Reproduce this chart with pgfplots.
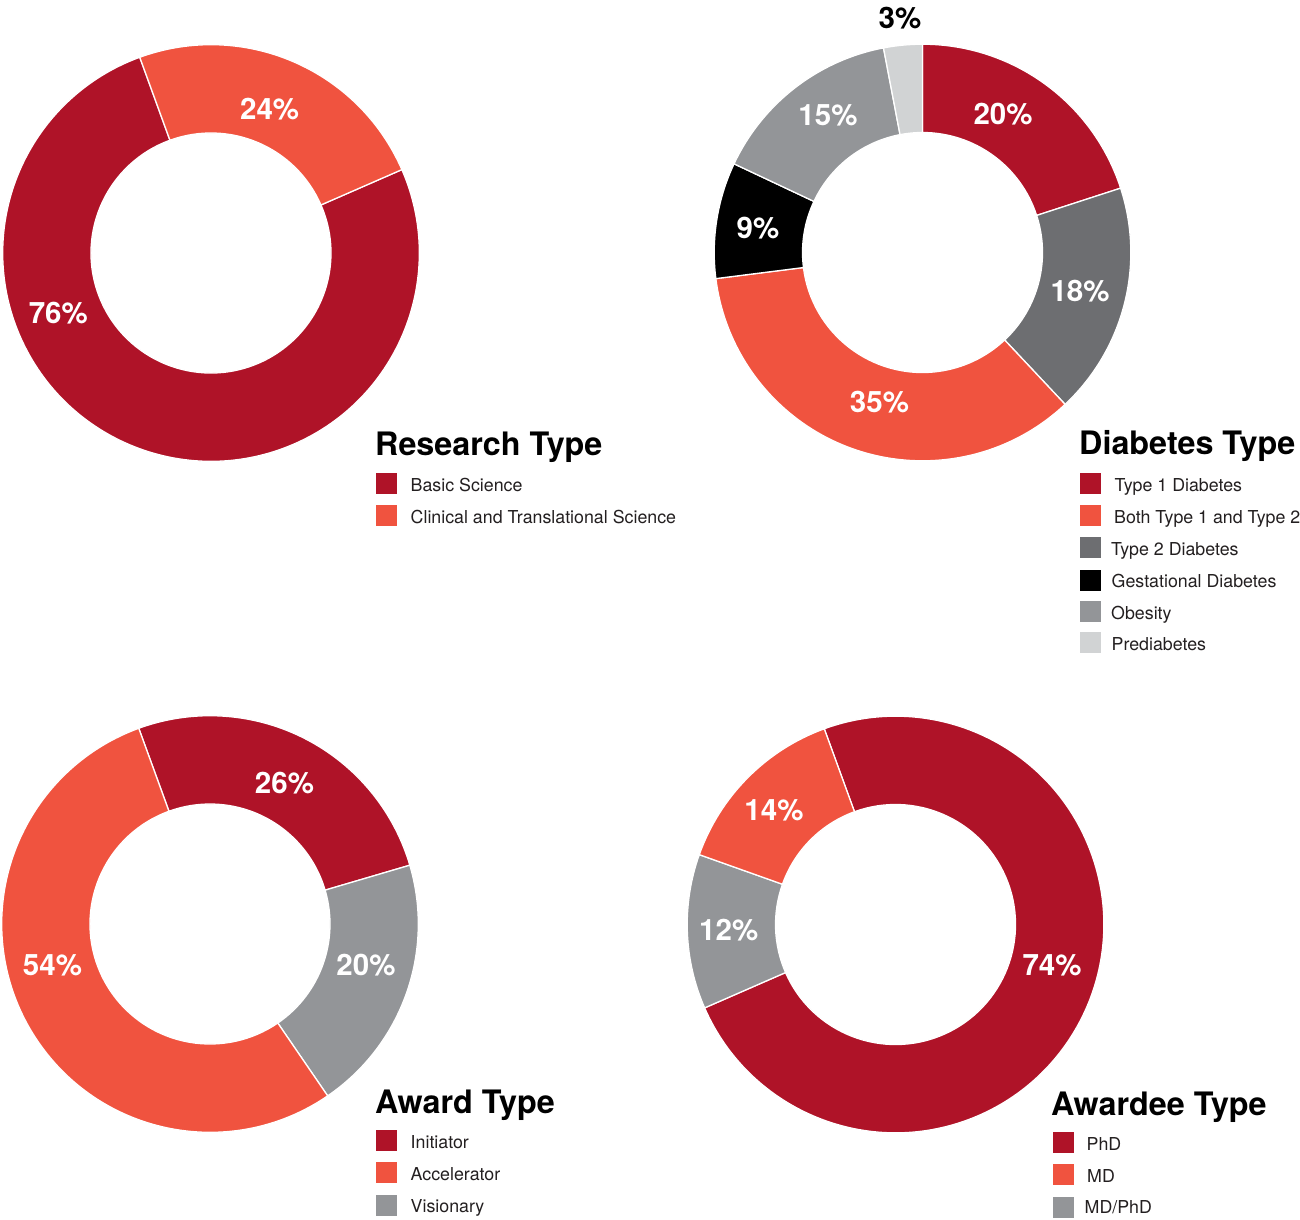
\documentclass[border=0pt]{standalone}
\usepackage{fontspec}
\setmainfont{TeX Gyre Heros}
\usepackage{pgfplots}
\pgfplotsset{compat=1.18}
\usetikzlibrary{calc}
\definecolor{cRed}{HTML}{AF1328}
\definecolor{cOrange}{HTML}{F0533F}
\definecolor{cDark}{HTML}{6D6E71}
\definecolor{cGray}{HTML}{939598}
\definecolor{cLight}{HTML}{D1D3D4}
\definecolor{cText}{HTML}{231F20}
% #1 cx, #2 cy, #3 start angle, #4 cumulative percent before, #5 percent, #6 colour
\newcommand{\sector}[6]{%
  \fill[#6, draw=white, line width=1.3pt]
    ($(axis cs:#1,#2)+({#3-3.6*(#4)}:208.3pt)$)
    arc[start angle={#3-3.6*(#4)}, end angle={#3-3.6*(#4+#5)}, radius=208.3pt]
    -- ($(axis cs:#1,#2)+({#3-3.6*(#4+#5)}:120pt)$)
    arc[start angle={#3-3.6*(#4+#5)}, end angle={#3-3.6*(#4)}, radius=120pt]
    -- cycle;}
% #1 x left, #2 y top, #3 x right, #4 y bottom, #5 colour
\newcommand{\legsq}[5]{\fill[#5] (axis cs:#1,#2) rectangle (axis cs:#3,#4);}
\tikzset{
  pct/.style={anchor=base, inner sep=0pt, text=white, font=\fontsize{29.5}{32}\selectfont\bfseries},
  ttl/.style={anchor=base west, inner sep=0pt, text=black, font=\fontsize{32.3}{36}\selectfont\bfseries},
  leg/.style={anchor=base west, inner sep=0pt, text=cText, font=\fontsize{17.8}{20}\selectfont},
}
\begin{document}
\begin{tikzpicture}
\useasboundingbox (0,0) rectangle (1300pt,1219pt);
\begin{axis}[
  at={(0,0)}, anchor=south west,
  x=1pt, y=1pt, xmin=0, xmax=1300, ymin=0, ymax=1219,
  y dir=reverse, hide axis, disabledatascaling, clip=false,
]
% ---- Research Type: Basic Science 76, Clinical and Translational 24
\sector{211}{253}{23.6}{0}{76}{cRed}
\sector{211}{253}{23.6}{76}{24}{cOrange}
\node[pct] at (axis cs:269.7,119) {24\%};
\node[pct] at (axis cs:58.3,323) {76\%};
\node[ttl] at (axis cs:375,455) {Research Type};
\legsq{376}{473}{397}{494}{cRed}
\legsq{376}{505}{397}{526}{cOrange}
\node[leg] at (axis cs:410.5,491) {Basic Science};
\node[leg] at (axis cs:410.5,523) {Clinical and Translational Science};

% ---- Diabetes Type: T1 20, T2 18, Both 35, Gestational 9, Obesity 15, Prediabetes 3
\sector{922.5}{252.5}{90}{0}{20}{cRed}
\sector{922.5}{252.5}{90}{20}{18}{cDark}
\sector{922.5}{252.5}{90}{38}{35}{cOrange}
\sector{922.5}{252.5}{90}{73}{9}{black}
\sector{922.5}{252.5}{90}{82}{15}{cGray}
\sector{922.5}{252.5}{90}{97}{3}{cLight}
\node[pct] at (axis cs:1003,124) {20\%};
\node[pct] at (axis cs:1080,301) {18\%};
\node[pct] at (axis cs:879.5,412) {35\%};
\node[pct] at (axis cs:758,238) {9\%};
\node[pct] at (axis cs:828,125) {15\%};
\node[pct, text=black] at (axis cs:900,28) {3\%};
\node[ttl] at (axis cs:1079,454.5) {Diabetes Type};
\legsq{1080}{473}{1101}{494}{cRed}
\legsq{1080}{505}{1101}{526}{cOrange}
\legsq{1080}{537}{1101}{558}{cDark}
\legsq{1080}{570}{1101}{591}{black}
\legsq{1080}{601}{1101}{622}{cGray}
\legsq{1080}{632}{1101}{653}{cLight}
\node[leg] at (axis cs:1114.5,491) {Type 1 Diabetes};
\node[leg, overlay] at (axis cs:1114,523) {Both Type 1 and Type 2 Diabetes};
\node[leg] at (axis cs:1111,555) {Type 2 Diabetes};
\node[leg] at (axis cs:1111.5,587.5) {Gestational Diabetes};
\node[leg] at (axis cs:1111,619) {Obesity};
\node[leg] at (axis cs:1111.5,650) {Prediabetes};

% ---- Award Type: Initiator 26, Visionary 20, Accelerator 54
\sector{210}{924}{110}{0}{26}{cRed}
\sector{210}{924}{110}{26}{20}{cGray}
\sector{210}{924}{110}{46}{54}{cOrange}
\node[pct] at (axis cs:284.5,793) {26\%};
\node[pct] at (axis cs:366,975) {20\%};
\node[pct] at (axis cs:52.5,975) {54\%};
\node[ttl] at (axis cs:375,1113.5) {Award Type};
\legsq{376}{1130}{397}{1151}{cRed}
\legsq{376}{1162}{397}{1183}{cOrange}
\legsq{376}{1195}{397}{1216}{cGray}
\node[leg] at (axis cs:410.5,1148) {Initiator};
\node[leg] at (axis cs:410.5,1180) {Accelerator};
\node[leg] at (axis cs:410.5,1212.5) {Visionary};

% ---- Awardee Type: PhD 74, MD/PhD 12, MD 14
\sector{895.5}{924.5}{110}{0}{74}{cRed}
\sector{895.5}{924.5}{110}{74}{12}{cGray}
\sector{895.5}{924.5}{110}{86}{14}{cOrange}
\node[pct] at (axis cs:774,820) {14\%};
\node[pct] at (axis cs:728.7,940) {12\%};
\node[pct] at (axis cs:1052,975) {74\%};
\node[ttl] at (axis cs:1051,1115) {Awardee Type};
\legsq{1053}{1132}{1074}{1153}{cRed}
\legsq{1053}{1164}{1074}{1185}{cOrange}
\legsq{1053}{1196.5}{1074}{1217.5}{cGray}
\node[leg] at (axis cs:1086.5,1150) {PhD};
\node[leg] at (axis cs:1087,1182) {MD};
\node[leg] at (axis cs:1084.5,1213.5) {MD/PhD};
\end{axis}
\end{tikzpicture}
\end{document}
